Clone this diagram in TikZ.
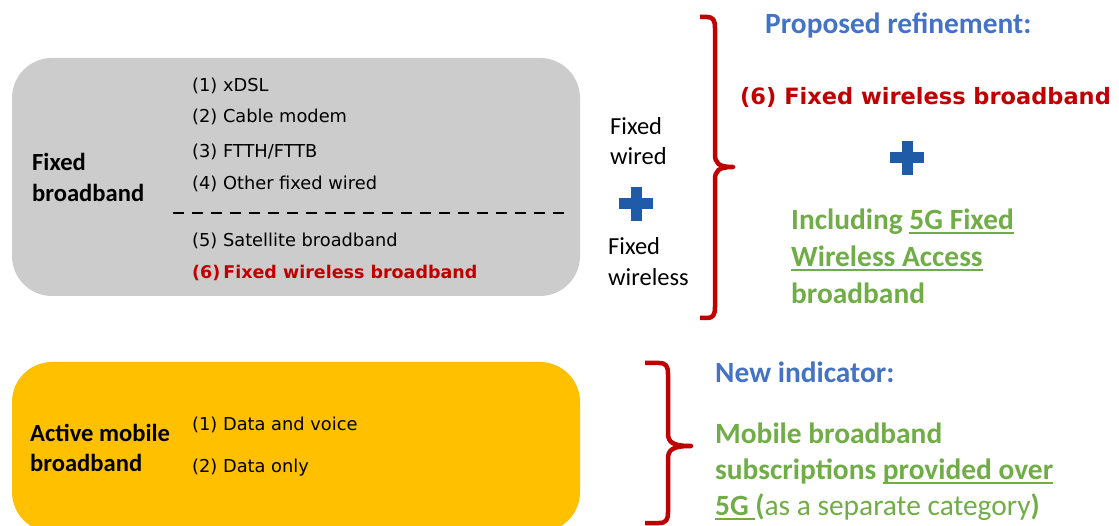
\documentclass[tikz,border=0pt]{standalone}
\usepackage{fontspec}
\setmainfont{Carlito}
\newfontfamily\verd{DejaVu Sans}
\usetikzlibrary{calc}
\definecolor{boxgray}{HTML}{CCCCCC}
\definecolor{boxorange}{HTML}{FFC000}
\definecolor{darkred}{HTML}{C00000}
\definecolor{plusblue}{HTML}{1F5BA6}
\definecolor{headblue}{HTML}{4472C4}
\definecolor{okgreen}{HTML}{70AD47}
\newcommand\myul[1]{\setbox0\hbox{#1}\rlap{\rule[-4.5pt]{\wd0}{2pt}}\box0}
\tikzset{
  panel/.style={rounded corners=40pt},
  item/.style={font=\verd\fontsize{17.8}{21}\selectfont, anchor=base west, inner sep=0pt},
  itemred/.style={font=\verd\bfseries\fontsize{17.5}{21}\selectfont, anchor=base west, inner sep=0pt, text=darkred},
  title/.style={font=\bfseries\fontsize{24.6}{29}\selectfont, anchor=base west, inner sep=0pt},
  side/.style={font=\fontsize{24.5}{29}\selectfont, anchor=base west, inner sep=0pt},
  head/.style={font=\bfseries\fontsize{29.4}{34}\selectfont, anchor=base west, inner sep=0pt, text=headblue},
  green/.style={font=\bfseries\fontsize{29.4}{34}\selectfont, anchor=base west, inner sep=0pt, text=okgreen},
  bigred/.style={font=\verd\bfseries\fontsize{22.5}{27}\selectfont, anchor=base west, inner sep=0pt, text=darkred},
  bracestyle/.style={draw=darkred, line width=4.5pt, line join=round},
}
\newcommand\plussign[1]{%
  \fill[plusblue] ($(#1)+(-17,-5.5)$) rectangle ($(#1)+(17,5.5)$);
  \fill[plusblue] ($(#1)+(-5.5,-17)$) rectangle ($(#1)+(5.5,17)$);}
\begin{document}
\begin{tikzpicture}[x=1pt,y=-1pt]
\useasboundingbox (0,0) rectangle (1119,526);
% panels
\fill[boxgray,panel] (12,58) rectangle (580,296);
\fill[boxorange,panel] (12,362) rectangle (580,532);
% fixed broadband
\node[title] (fb1) at (32,171) {Fixed};
\node[title] (fb2) at (32,202) {broadband};
\node[item] (i1) at (192,92) {(1) xDSL};
\node[item] (i2) at (192,123) {(2) Cable modem};
\node[item] (i3) at (192,158) {(3) FTTH/FTTB};
\node[item] (i4) at (192,190) {(4) Other fixed wired};
\coordinate (d1) at (173,213);
\coordinate (d2) at (568,213);
\draw[line width=2pt, dash pattern=on 11pt off 8pt] (d1) -- (d2);
\node[item] (i5) at (192,247) {(5) Satellite broadband};
\node[itemred] (i6) at (192,279) {(6)\hspace{3pt}Fixed wireless broadband};
% middle
\node[side] (fw1) at (610,135) {Fixed};
\node[side] (fw2) at (610,165) {wired};
\coordinate (p1) at (636,204);
\plussign{p1}
\node[side] (fl1) at (608,255) {Fixed};
\node[side] (fl2) at (608,286) {wireless};
% brace 1
\coordinate (b1t) at (700,17);
\coordinate (b1m) at (733,167);
\coordinate (b1b) at (700,318);
\draw[bracestyle] (b1t) -- (707,17) .. controls (713,17) and (715,20) .. (715,28) -- (715,154)
  .. controls (715,163) and (718,167) .. (b1m)
  .. controls (718,167) and (715,171) .. (715,180) -- (715,307)
  .. controls (715,315) and (713,318) .. (707,318) -- (b1b);
% right top
\node[head] (pr) at (765,33.5) {Proposed refinement:};
\node[bigred] (fwb) at (740,105) {(6) Fixed wireless broadband};
\coordinate (p2) at (907,158);
\plussign{p2}
\node[green] (g1) at (791,229.5) {Including \myul{5G Fixed}};
\node[green] (g2) at (791,266.5) {\myul{Wireless Access}};
\node[green] (g3) at (791,303.5) {broadband};
% active mobile
\node[title] (am1) at (30,441) {Active mobile};
\node[title] (am2) at (30,471) {broadband};
\node[item] (m1) at (192,431) {(1) Data and voice};
\node[item] (m2) at (192,472) {(2) Data only};
% brace 2
\coordinate (b2t) at (645,363);
\coordinate (b2m) at (691,446);
\coordinate (b2b) at (645,523);
\draw[bracestyle] (b2t) -- (659,363) .. controls (666,363) and (668,366) .. (668,374) -- (668,433)
  .. controls (668,442) and (672,446) .. (b2m)
  .. controls (672,446) and (668,450) .. (668,459) -- (668,512)
  .. controls (668,520) and (666,523) .. (659,523) -- (b2b);
% right bottom
\node[head] (ni) at (715,382.5) {New indicator:};
\node[green] (n1) at (715,443.5) {Mobile broadband};
\node[green] (n2) at (715,479.5) {subscriptions \myul{provided over}};
\node[green] (n3) at (715,515.5) {\myul{5G }({\mdseries as a separate category})};
\end{tikzpicture}
\end{document}
